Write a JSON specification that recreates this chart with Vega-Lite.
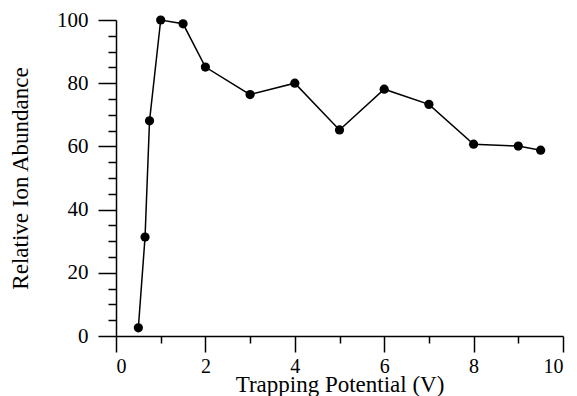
{
  "$schema": "https://vega.github.io/schema/vega-lite/v6.json",
  "autosize": "none",
  "width": 447,
  "height": 316,
  "padding": {"left": 116, "top": 20, "right": 14, "bottom": 60},
  "background": "white",
  "config": {
    "view": {"stroke": null},
    "font": "Liberation Serif",
    "axis": {
      "grid": false,
      "domainColor": "black",
      "domainWidth": 1.5,
      "tickColor": "black",
      "tickWidth": 1.5,
      "labelColor": "black",
      "titleColor": "black",
      "labelFont": "Liberation Serif",
      "titleFont": "Liberation Serif",
      "labelFontSize": 21,
      "titleFontSize": 23,
      "titleFontWeight": "normal"
    }
  },
  "data": {
    "values": [
      {"v": 0.5, "a": 2.6},
      {"v": 0.65, "a": 31.3},
      {"v": 0.75, "a": 68.1},
      {"v": 1.0, "a": 100},
      {"v": 1.5, "a": 98.8},
      {"v": 2.0, "a": 85.1},
      {"v": 3.0, "a": 76.4},
      {"v": 4.0, "a": 80.0},
      {"v": 5.0, "a": 65.2},
      {"v": 6.0, "a": 78.1},
      {"v": 7.0, "a": 73.3},
      {"v": 8.0, "a": 60.7},
      {"v": 9.0, "a": 60.1},
      {"v": 9.5, "a": 58.8}
    ]
  },
  "encoding": {
    "x": {"field": "v", "type": "quantitative", "scale": {"domain": [0, 10], "nice": false, "zero": false},
      "axis": {"orient": "bottom", "values": [0, 1, 2, 3, 4, 5, 6, 7, 8, 9, 10],
        "tickSize": 16,
        "tickDash": {"condition": {"test": "datum.value % 2 === 0", "value": [20, 1]}, "value": [7, 40]},
        "labelExpr": "datum.value % 2 === 0 ? datum.label : ''",
        "labelPadding": 4, "labelFontSize": 20,
        "title": "Trapping Potential (V)", "titleBaseline": "alphabetic", "titleY": 55}},
    "y": {"field": "a", "type": "quantitative", "scale": {"domain": [0, 100], "nice": false},
      "axis": {"orient": "left", "values": [0, 5, 10, 15, 20, 25, 30, 35, 40, 45, 50, 55, 60, 65, 70, 75, 80, 85, 90, 95, 100],
        "tickSize": 18,
        "tickDash": {"condition": {"test": "datum.value % 20 === 0", "value": [20, 1]}, "value": [8, 40]},
        "labelExpr": "datum.value % 20 === 0 ? datum.label : ''",
        "labelPadding": 10,
        "title": "Relative Ion Abundance", "titleBaseline": "alphabetic", "titleX": -89}}
  },
  "layer": [
    {"mark": {"type": "line", "color": "black", "strokeWidth": 1.5}},
    {"mark": {"type": "point", "filled": true, "color": "black", "opacity": 1, "size": 85}}
  ]
}
